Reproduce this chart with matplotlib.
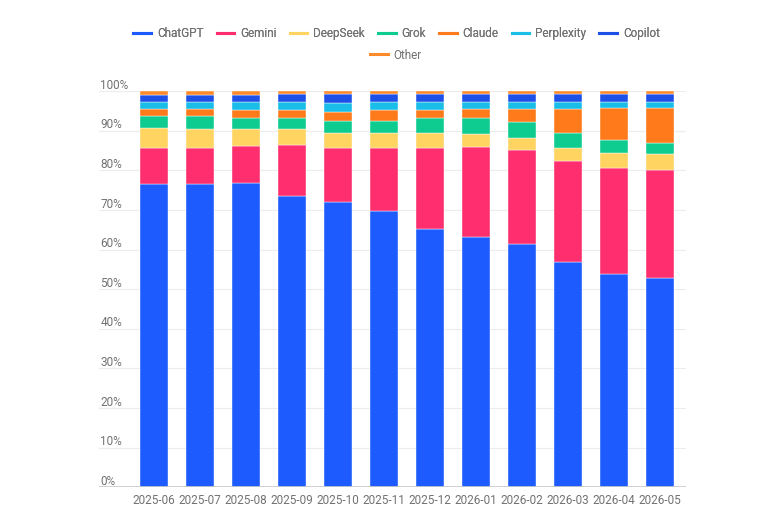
import matplotlib
matplotlib.use("Agg")
import matplotlib.pyplot as plt
import numpy as np

plt.rcParams["font.family"] = ["Roboto", "DejaVu Sans"]

months = ["2025-06", "2025-07", "2025-08", "2025-09", "2025-10", "2025-11",
          "2025-12", "2026-01", "2026-02", "2026-03", "2026-04", "2026-05"]

chatgpt    = [76.6, 76.6, 76.9, 73.6, 71.9, 69.6, 65.3, 63.2, 61.3, 56.8, 53.7, 52.7]
gemini     = [8.9, 9.1, 9.2, 12.8, 13.6, 15.9, 20.2, 22.7, 23.8, 25.5, 26.8, 27.4]
deepseek   = [5.2, 4.6, 4.2, 3.9, 4.0, 4.0, 3.8, 3.2, 3.1, 3.4, 3.9, 4.0]
grok       = [3.0, 3.4, 3.0, 3.0, 2.9, 2.9, 4.0, 4.2, 4.0, 3.8, 3.2, 2.7]
claude     = [1.7, 1.7, 1.8, 1.8, 2.2, 2.7, 1.9, 2.1, 3.2, 5.9, 8.0, 9.0]
perplexity = [1.8, 1.8, 2.0, 2.0, 2.3, 2.1, 1.9, 1.7, 1.7, 1.7, 1.5, 1.3]
copilot    = [1.9, 1.9, 1.9, 2.1, 2.3, 2.0, 2.1, 2.1, 2.1, 2.1, 2.1, 2.1]
other      = [0.9, 0.9, 1.0, 0.8, 0.8, 0.8, 0.8, 0.8, 0.8, 0.8, 0.8, 0.8]

names = ["ChatGPT", "Gemini", "DeepSeek", "Grok", "Claude", "Perplexity", "Copilot", "Other"]
series = [chatgpt, gemini, deepseek, grok, claude, perplexity, copilot, other]
colors = ["#1D5BFF", "#FF2E6E", "#FFD460", "#0ECB8F", "#FF7A1A", "#19BDE8", "#1E50E8", "#FF8A2A"]

y_ticks = [0, 10, 20, 30, 40, 50, 60, 70, 80, 90, 100]

text_color = "#727272"

fig = plt.figure(figsize=(7.7, 5.15), dpi=100)
ax = fig.add_axes([0.1286, 0.0538, 0.7623, 0.7695])

x = np.arange(len(months))
bottom = np.zeros(len(months))
handles = []
for name, vals, col in zip(names, series, colors):
    vals = np.array(vals)
    ax.bar(x, vals, bottom=bottom, width=0.61, color=col,
           edgecolor="white", linewidth=0.3, zorder=3)
    bottom += vals
    h, = ax.plot([], [], color=col, lw=2.2, label=name)
    handles.append(h)

ax.set_xlim(-1.2, 11.57)
ax.set_ylim(0, 100)

# gridlines, with the y labels sitting just above each line
for t in y_ticks:
    if t == 0:
        ax.axhline(t, color="#c8c8c8", lw=1.2, zorder=4)
    else:
        ax.axhline(t, color="#ececec", lw=0.8, zorder=1)
    ax.text(0.002, t + 0.6, f"{t}%", transform=ax.get_yaxis_transform(),
            ha="left", va="baseline", fontsize=8.5, color=text_color, clip_on=False)

ax.set_yticks([])
ax.set_xticks(x)
ax.set_xticklabels(months, fontsize=8.5, color=text_color)
ax.tick_params(axis="x", length=0, pad=5)

for s in ax.spines.values():
    s.set_visible(False)

leg1 = fig.legend(handles=handles[:7], loc="center", bbox_to_anchor=(0.515, 0.934),
                  ncol=7, frameon=False, fontsize=8.5, handlelength=1.5,
                  handletextpad=0.5, columnspacing=1.1, labelcolor=text_color)
leg2 = fig.legend(handles=handles[7:], loc="center", bbox_to_anchor=(0.514, 0.893),
                  ncol=1, frameon=False, fontsize=8.5, handlelength=1.5,
                  handletextpad=0.5, labelcolor=text_color)
fig.add_artist(leg1)

fig.savefig("out.png", dpi=100, facecolor="white")
